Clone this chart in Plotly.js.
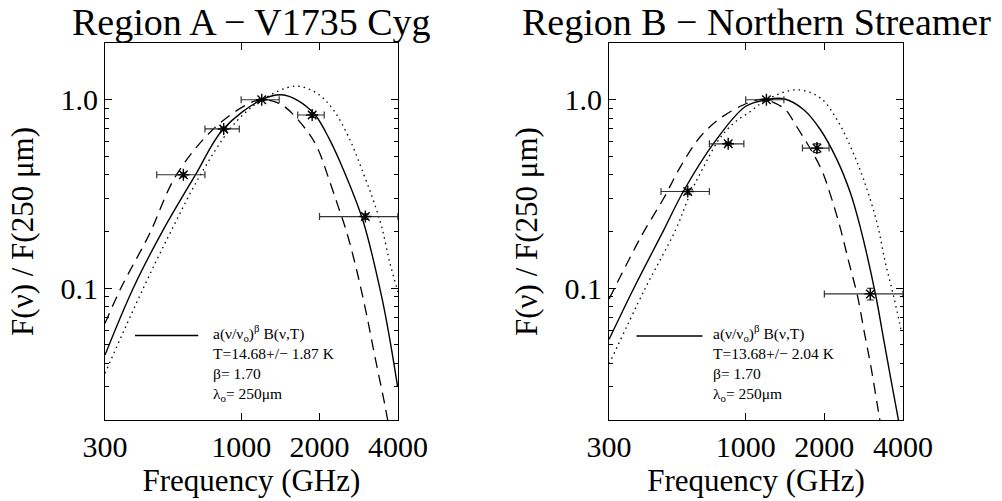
<!DOCTYPE html>
<html>
<head>
<meta charset="utf-8">
<script src="https://cdn.plot.ly/plotly-3.0.1.min.js"></script>
<style>html,body{margin:0;padding:0;background:#fff;}#chart{width:1002px;height:501px;}</style>
</head>
<body>
<div id="chart"></div>
<script>
// ---- Data ----
// Region A – V1735 Cyg: measured points
const bandFreq = [600, 857, 1200, 1874, 3000];               // GHz
const fluxA = [0.40, 0.70, 1.00, 0.83, 0.24];               // F(nu)/F(250um)
const fluxErrA = [0.01, 0.015, 0.01, 0.025, 0.008];
const freqErrMinus = [126, 131, 200, 225, 1000];
const freqErrPlus = [126, 127, 200, 211, 1000];
// Region B – Northern Streamer: measured points
const fluxB = [0.326, 0.584, 1.00, 0.554, 0.0933];
const fluxErrB = [0.01, 0.01, 0.01, 0.03, 0.0067];

// Model curves, Region A (solid: best fit, dashed: lower T, dotted: higher T)
const aSolidX = [300, 385, 502, 665, 854, 1199, 1431, 1653, 1921, 2180, 2489, 2944, 3465, 3728, 3991];
const aSolidY = [0.0442, 0.100, 0.204, 0.396, 0.699, 1.0, 1.063, 0.99, 0.832, 0.62, 0.415, 0.226, 0.0902, 0.0531, 0.030];
const aDashX = [300, 345, 444, 562, 782, 1050, 1200, 1431, 1798, 1978, 2178, 2360, 2531, 2777, 3034, 3265, 3566, 3696];
const aDashY = [0.0652, 0.100, 0.1935, 0.396, 0.699, 0.941, 1.0, 0.941, 0.679, 0.543, 0.376, 0.271, 0.203, 0.125, 0.0722, 0.0433, 0.0240, 0.0183];
const aDotX = [300, 418, 541, 695, 906, 1050, 1202, 1609, 1950, 2258, 2617, 2944, 3217, 3465, 3728, 4002];
const aDotY = [0.0354, 0.098, 0.204, 0.396, 0.699, 0.867, 1.0, 1.18, 1.085, 0.885, 0.613, 0.408, 0.294, 0.212, 0.136, 0.0956];

// Model curves, Region B
const bSolidX = [300, 373, 486, 579, 755, 998, 1201, 1399, 1668, 1932, 2237, 2517, 2749, 3137, 3377, 3581, 3837, 3888];
const bSolidY = [0.0536, 0.100, 0.204, 0.329, 0.589, 0.921, 1.0, 1.012, 0.885, 0.693, 0.480, 0.320, 0.209, 0.0932, 0.0531, 0.0339, 0.0202, 0.018];
const bDashX = [300, 401, 486, 563, 671, 801, 983, 1132, 1201, 1408, 1561, 1932, 2110, 2305, 2480, 2673, 2843, 3023, 3222, 3273];
const bDashY = [0.0877, 0.192, 0.301, 0.442, 0.638, 0.80, 0.941, 1.005, 1.0, 0.894, 0.727, 0.438, 0.313, 0.207, 0.138, 0.0921, 0.0586, 0.0376, 0.0221, 0.0195];
const bDotX = [300, 411, 539, 615, 691, 789, 900, 1043, 1200, 1573, 1932, 2237, 2517, 2830, 3183, 3427, 3686, 3957];
const bDotY = [0.0396, 0.099, 0.204, 0.320, 0.442, 0.613, 0.752, 0.867, 1.0, 1.13, 1.021, 0.783, 0.565, 0.376, 0.2215, 0.1358, 0.0902, 0.0579];

// Tick labels and texts
const xTickVals = [300, 1000, 2000, 4000];
const xTickText = ['300', '1000', '2000', '4000'];
const yTickVals = [0.1, 1];
const yTickText = ['0.1', '1.0'];
const yMinorVals = [0.02, 0.03, 0.04, 0.05, 0.06, 0.07, 0.08, 0.09, 0.2, 0.3, 0.4, 0.5, 0.6, 0.7, 0.8, 0.9];
const titleA = 'Region A − V1735 Cyg';
const titleB = 'Region B − Northern Streamer';
const legendA = ['a(ν/ν<sub>o</sub>)<sup>β</sup> B(ν,T)', 'T=14.68+/− 1.87 K', 'β= 1.70', 'λ<sub>o</sub>= 250μm'];
const legendB = ['a(ν/ν<sub>o</sub>)<sup>β</sup> B(ν,T)', 'T=13.68+/− 2.04 K', 'β= 1.70', 'λ<sub>o</sub>= 250μm'];

// ---- Styling ----
const FONT = "'Liberation Serif', 'Times New Roman', Times, serif";
const BLACK = '#000';

function curve(x, y, xa, ya, dash) {
  return {x: x, y: y, xaxis: xa, yaxis: ya, type: 'scatter', mode: 'lines',
    line: {color: BLACK, width: dash === 'solid' ? 1.4 : 1.3, dash: dash, shape: 'spline', smoothing: 1},
    hoverinfo: 'skip', showlegend: false};
}
function points(y, yerr, xa, ya) {
  return {x: bandFreq, y: y, xaxis: xa, yaxis: ya, type: 'scatter', mode: 'markers',
    marker: {symbol: 'asterisk-open', size: 10, color: BLACK, line: {color: BLACK, width: 1.4}},
    error_x: {type: 'data', symmetric: false, array: freqErrPlus, arrayminus: freqErrMinus,
      color: '#333', thickness: 1.2, width: 3.5},
    error_y: {type: 'data', array: yerr, color: '#222', thickness: 1.2, width: 3.5},
    showlegend: false};
}

const traces = [
  curve(aSolidX, aSolidY, 'x', 'y', 'solid'),
  curve(aDashX, aDashY, 'x', 'y', '11px,7px'),
  curve(aDotX, aDotY, 'x', 'y', '1.5px,4px'),
  points(fluxA, fluxErrA, 'x', 'y'),
  curve(bSolidX, bSolidY, 'x2', 'y2', 'solid'),
  curve(bDashX, bDashY, 'x2', 'y2', '11px,7px'),
  curve(bDotX, bDotY, 'x2', 'y2', '1.5px,4px'),
  points(fluxB, fluxErrB, 'x2', 'y2')
];

function xAxis(domain, anchor) {
  return {type: 'log', range: [Math.log10(300), Math.log10(4000)], domain: domain, anchor: anchor,
    tickmode: 'array', tickvals: xTickVals, ticktext: xTickText,
    ticks: 'inside', ticklen: 7, tickwidth: 1, tickcolor: BLACK, mirror: 'ticks',
    showline: true, linecolor: BLACK, linewidth: 1, showgrid: false, zeroline: false,
    tickfont: {family: FONT, size: 30, color: BLACK},
    title: {text: 'Frequency (GHz)', standoff: 4, font: {family: FONT, size: 31, color: BLACK}}};
}
function yAxis(anchor) {
  return {type: 'log', range: [Math.log10(0.02), Math.log10(2)], domain: [0, 1], anchor: anchor,
    tickmode: 'array', tickvals: yTickVals, ticktext: yTickText,
    ticks: 'inside', ticklen: 7, tickwidth: 1, tickcolor: BLACK, mirror: 'ticks',
    minor: {tickmode: 'array', tickvals: yMinorVals, ticks: 'inside', ticklen: 3.5, tickwidth: 1, tickcolor: BLACK, showgrid: false},
    showline: true, linecolor: BLACK, linewidth: 1, showgrid: false, zeroline: false,
    tickfont: {family: FONT, size: 30, color: BLACK},
    title: {text: 'F(ν) / F(250 μm)', font: {family: FONT, size: 31, color: BLACK}}};
}

const annotations = [];
function addPanelText(xd, yd, title, lines, x0) {
  annotations.push({xref: xd, yref: 'paper', x: 0.5, y: 1.056, xanchor: 'center', yanchor: 'middle',
    text: title, showarrow: false, font: {family: FONT, size: 38, color: BLACK}});
  annotations.push({xref: xd, yref: yd, x: x0, y: 0.1525, xanchor: 'left', yanchor: 'middle', align: 'left',
    text: lines.join('<br>'), showarrow: false, font: {family: FONT, size: 15.5, color: BLACK}});
}
addPanelText('x domain', 'y domain', titleA, legendA, 0.3607);
addPanelText('x2 domain', 'y2 domain', titleB, legendB, 0.3483);

const shapes = [
  {type: 'line', xref: 'x domain', yref: 'y domain', x0: 0.1024, x1: 0.3184, y0: 0.2241, y1: 0.2241, line: {color: BLACK, width: 1.4}},
  {type: 'line', xref: 'x2 domain', yref: 'y2 domain', x0: 0.0932, x1: 0.3177, y0: 0.2228, y1: 0.2228, line: {color: BLACK, width: 1.4}}
];

const layout = {
  width: 1002, height: 501,
  margin: {l: 105, r: 98.7, t: 43, b: 81, pad: 0},
  paper_bgcolor: '#fff', plot_bgcolor: '#fff',
  showlegend: false,
  font: {family: FONT, color: BLACK},
  xaxis: xAxis([0, 0.36703], 'y'),
  yaxis: yAxis('x'),
  xaxis2: xAxis([0.63172, 1], 'y2'),
  yaxis2: yAxis('x2'),
  annotations: annotations,
  shapes: shapes
};

Plotly.newPlot('chart', traces, layout, {staticPlot: true, displayModeBar: false});
</script>
</body>
</html>
